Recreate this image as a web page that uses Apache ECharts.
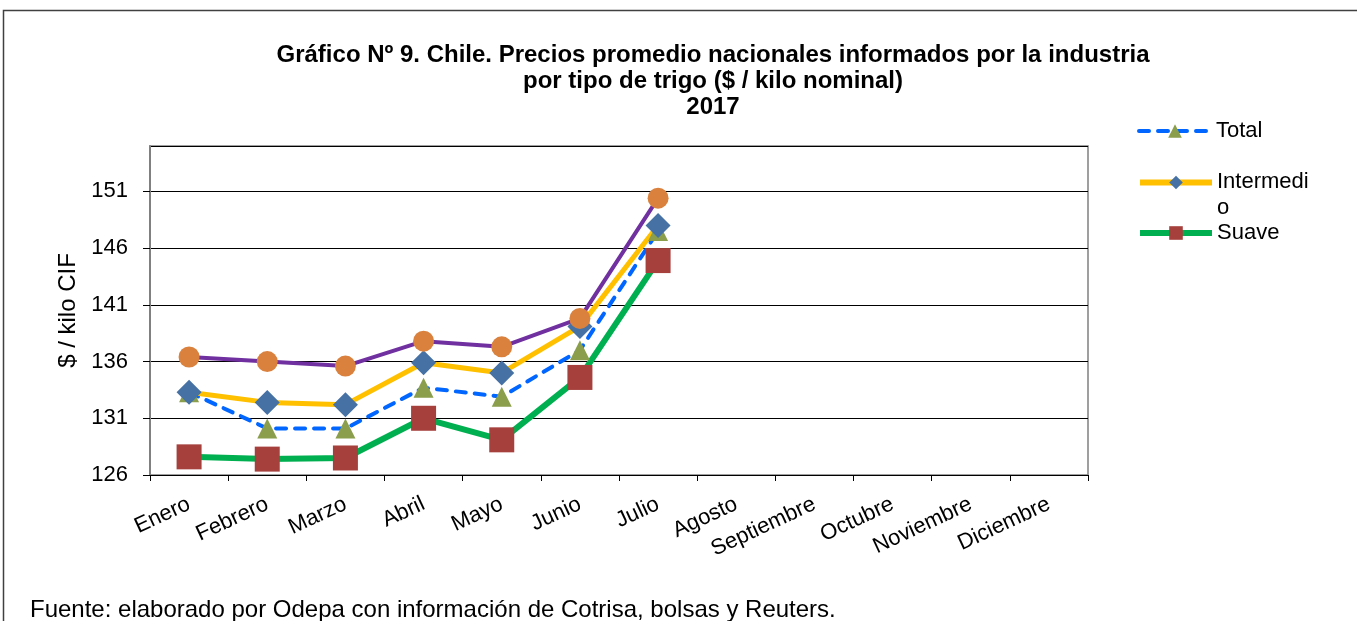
<!DOCTYPE html>
<html>
<head>
<meta charset="utf-8">
<script src="https://cdn.jsdelivr.net/npm/echarts@6/dist/echarts.min.js"></script>
<style>
  html, body { margin: 0; padding: 0; background: #fff; }
  #chartLineBox { width: 1357px; height: 621px; }
</style>
</head>
<body>
<div id="chartLineBox"></div>
<script>
// meses (eje x)
const meses = ['Enero', 'Febrero', 'Marzo', 'Abril', 'Mayo', 'Junio', 'Julio',
  'Agosto', 'Septiembre', 'Octubre', 'Noviembre', 'Diciembre'];
// precios por tipo de trigo, $/kilo
const total = [133.3, 130.1, 130.1, 133.7, 132.9, 137.0, 147.5];
const intermedio = [133.3, 132.4, 132.2, 135.9, 135.0, 139.1, 148.0];
const suave = [127.6, 127.4, 127.5, 131.0, 129.1, 134.6, 144.9];
const duro = [136.4, 136.0, 135.6, 137.8, 137.3, 139.8, 150.4];

const font = "'Liberation Sans', Arial, sans-serif";
const chart = echarts.init(document.getElementById('chartLineBox'));

const legendBase = {
  orient: 'vertical',
  left: 1137,
  padding: 0,
  itemWidth: 72,
  itemHeight: 17,
  itemGap: 0,
  textStyle: { fontFamily: font, fontSize: 22, color: '#000' },
};

var option = {
  animation: false,
  backgroundColor: '#fff',
  textStyle: { fontFamily: font },
  title: {
    text: 'Gráfico Nº 9. Chile. Precios promedio nacionales informados por la industria\npor tipo de trigo ($ / kilo nominal)\n2017',
    left: 708,
    top: 37,
    textAlign: 'center',
    textStyle: { fontFamily: font, fontSize: 24, fontWeight: 'bold', lineHeight: 26, color: '#000' },
  },
  legend: [
    Object.assign({}, legendBase, { top: 120, data: ['Total'], lineStyle: { width: 4 } }),
    Object.assign({}, legendBase, {
      top: 171,
      data: ['Intermedio'],
      lineStyle: { width: 6 },
      formatter: () => '{a|Intermedi}\n{b|o}',
      textStyle: {
        fontFamily: font, fontSize: 22, color: '#000',
        rich: {
          a: { fontFamily: font, fontSize: 22, color: '#000', lineHeight: 50 },
          b: { fontFamily: font, fontSize: 22, color: '#000', lineHeight: 1 },
        },
      },
    }),
    Object.assign({}, legendBase, { top: 222, data: ['Suave'], lineStyle: { width: 6 } }),
  ],
  grid: { left: 150, top: 146, right: 269, bottom: 146, show: true, borderColor: '#808080', borderWidth: 1.5 },
  xAxis: {
    type: 'category',
    data: meses,
    boundaryGap: true,
    axisLine: { lineStyle: { color: '#000', width: 1 } },
    axisTick: { show: true, length: 6, lineStyle: { color: '#000' } },
    axisLabel: { rotate: 25, fontSize: 22, color: '#000', fontFamily: font, margin: 28, interval: 0 },
  },
  yAxis: {
    type: 'value',
    min: 126,
    max: 155,
    interval: 5,
    name: '$ / kilo CIF',
    nameLocation: 'middle',
    nameGap: 70,
    nameTextStyle: { fontFamily: font, fontSize: 24, color: '#000' },
    axisLine: { show: true, lineStyle: { color: '#808080', width: 2 } },
    axisTick: { show: true, length: 7, lineStyle: { color: '#000' } },
    axisLabel: { fontSize: 22, color: '#000', fontFamily: font, margin: 22, showMaxLabel: false },
    splitLine: { lineStyle: { color: '#000', width: 1 } },
  },
  series: [
    {
      name: 'Total',
      type: 'line',
      data: total,
      symbol: 'triangle',
      symbolSize: 20,
      itemStyle: { color: '#8A9E4B' },
      lineStyle: { color: '#0066FF', width: 4, type: [10, 9], cap: 'round' },
    },
    {
      name: 'Intermedio',
      type: 'line',
      data: intermedio,
      symbol: 'diamond',
      symbolSize: 25,
      itemStyle: { color: '#4571A5' },
      lineStyle: { color: '#FFC000', width: 5 },
    },
    {
      name: 'Suave',
      type: 'line',
      data: suave,
      symbol: 'rect',
      symbolSize: 25,
      itemStyle: { color: '#A5403D' },
      lineStyle: { color: '#00B050', width: 6 },
    },
    {
      name: 'Duro',
      type: 'line',
      data: duro,
      symbol: 'circle',
      symbolSize: 21,
      itemStyle: { color: '#DA813D' },
      lineStyle: { color: '#7030A0', width: 4 },
    },
  ],
  graphic: [
    {
      type: 'rect',
      shape: { x: 3.5, y: 10.5, width: 1400, height: 700 },
      style: { fill: null, stroke: '#404040', lineWidth: 1.5 },
      silent: true,
    },
    {
      type: 'text',
      left: 30,
      top: 598,
      style: {
        text: 'Fuente: elaborado por Odepa con información de Cotrisa, bolsas y Reuters.',
        font: '24px ' + font,
        fill: '#000',
      },
    },
  ],
};

chart.setOption(option);
</script>
</body>
</html>
